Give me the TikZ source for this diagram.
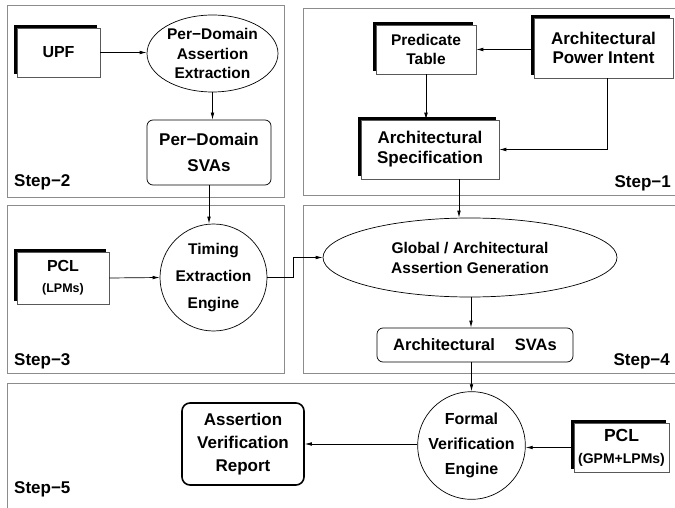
\documentclass[tikz,border=0pt]{standalone}
\usepackage{fontspec}
\setmainfont{Liberation Sans}
\usetikzlibrary{arrows.meta,shadows,shapes.geometric}

\newcommand\sz[2]{\bfseries\fontsize{#1}{#2}\selectfont}

\tikzset{
  panel/.style={draw=black!45, line width=0.9pt},
  steplabel/.style={inner sep=0pt, font=\sz{17}{20}},
  shadowbox/.style={draw=black!65, line width=0.5pt, fill=white, align=center,
    inner sep=0pt,
    drop shadow={shadow xshift=-3pt, shadow yshift=3pt, fill=black, opacity=1}},
  roundbox/.style={draw=black, line width=0.7pt, rounded corners=6pt, fill=white,
    align=center, inner sep=0pt},
  oval/.style={ellipse, draw=black, line width=0.7pt, fill=white, align=center, inner sep=0pt},
  engine/.style={circle, draw=black, line width=0.7pt, fill=white, align=center, inner sep=0pt},
  arr/.style={draw=black, line width=0.7pt, -{Latex[length=7pt,width=3.6pt]}},
}

\begin{document}
\begin{tikzpicture}[x=1pt, y=-1pt]
  \fill[white] (0,0) rectangle (675,508);
  \useasboundingbox (0,0) rectangle (675,508);
  \clip (0,0) rectangle (675,508);

  % step panels
  \draw[panel] (7,5) rectangle (284,197);
  \draw[panel] (303,8) rectangle (680,195);
  \draw[panel] (7,205) rectangle (284,373);
  \draw[panel] (303,205) rectangle (680,373);
  \draw[panel] (7,383) rectangle (680,515);

  \node[steplabel, anchor=base west] (s2) at (14,186) {Step−2};
  \node[steplabel, anchor=base east] (s1) at (671,188) {Step−1};
  \node[steplabel, anchor=base west] (s3) at (14,365) {Step−3};
  \node[steplabel, anchor=base east] (s4) at (670,365) {Step−4};
  \node[steplabel, anchor=base west] (s5) at (14,493) {Step−5};

  % Step-2
  \node[shadowbox, minimum width=83pt, minimum height=49pt, font=\sz{16}{19}]
    (upf) at (58.5,52.5) {UPF};
  \node[oval, minimum width=131pt, minimum height=77pt, font=\sz{15.5}{19.5}]
    (pde) at (212.5,53.5) {Per−Domain\\Assertion\\Extraction};
  \node[roundbox, minimum width=124pt, minimum height=65pt, font=\sz{17}{26}]
    (pds) at (209,152.5) {Per−Domain\\SVAs};

  % Step-1
  \node[shadowbox, minimum width=100pt, minimum height=49pt, font=\sz{15.5}{19}]
    (pt) at (426,49.5) {Predicate\\Table};
  \node[shadowbox, minimum width=139pt, minimum height=60pt, font=\sz{17}{19.5}]
    (api) at (603.5,48) {Architectural\\Power Intent};
  \node[shadowbox, minimum width=138pt, minimum height=59pt, font=\sz{17}{20}]
    (aspec) at (430,149.5) {Architectural\\Specification};

  % Step-3
  \node[shadowbox, minimum width=92pt, minimum height=52pt, font=\sz{16}{21}]
    (pcl3) at (63,278) {PCL\\{\sz{12.5}{15}(LPMs)}};
  \node[engine, minimum size=107pt, font=\sz{15.5}{27}]
    (timing) at (213.5,277.5) {Timing\\Extraction\\Engine};

  % Step-4
  \node[oval, minimum width=294pt, minimum height=79pt, font=\sz{15.5}{20}]
    (glob) at (470,257.5) {Global / Architectural\\Assertion Generation};
  \node[roundbox, minimum width=196pt, minimum height=34pt, font=\sz{16.5}{20}]
    (asva) at (475,345) {Architectural\hspace{20pt}SVAs};

  % Step-5
  \node[engine, minimum size=106pt, font=\sz{16}{25}]
    (fve) at (471.5,445.5) {Formal\\Verification\\Engine};
  \node[roundbox, line width=1.6pt, rounded corners=8pt, minimum width=122pt,
    minimum height=82pt, font=\sz{17}{23}]
    (report) at (243,444) {Assertion\\Verification\\Report};
  \node[shadowbox, minimum width=95pt, minimum height=49pt, font=\sz{17.5}{22}]
    (pcl5) at (621.5,447.5) {PCL\\{\sz{14}{16}(GPM+LPMs)}};

  % connectors
  \draw[arr] (upf.east) -- (upf.east -| pde.west);
  \draw[arr] (pde.south) -- (pde.south |- pds.north);
  \draw[arr] (pds.south) -- (pds.south |- timing.north);
  \draw[arr] (pcl3.east) -- (timing.west);
  \coordinate (jog) at (293,277.5);
  \draw[arr] (timing.east) -- (jog) |- (glob.west);

  \draw[arr] (api.west |- pt.east) -- (pt.east);
  \draw[arr] (pt.south) -- (pt.south |- aspec.north);
  \draw[arr] ([xshift=3.5pt]api.south) |- (aspec.east);
  \coordinate (aspecout) at ([xshift=29pt]aspec.south);
  \draw[arr] (aspecout) -- (aspecout |- glob.north);

  \draw[arr] ([xshift=1pt]glob.south) -- ([xshift=1pt]glob.south |- asva.north);
  \draw[arr] (fve.north |- asva.south) -- (fve.north);
  \draw[arr] (pcl5.west) -- (pcl5.west -| fve.east);
  \draw[arr] (fve.west |- report.east) -- (report.east);
\end{tikzpicture}
\end{document}
